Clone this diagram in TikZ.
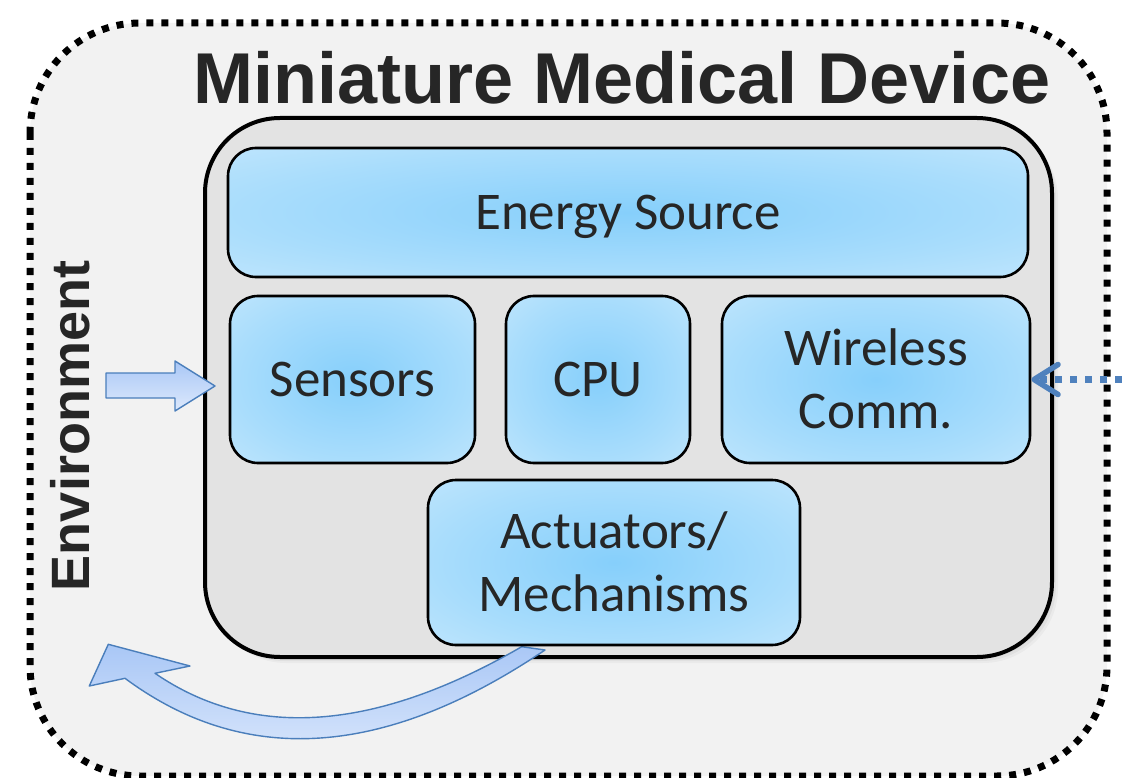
\documentclass[tikz,border=0pt]{standalone}
\usepackage{fontspec}
\setmainfont{Carlito}
\newfontfamily\headfont{Liberation Sans}
\usetikzlibrary{arrows.meta}
\definecolor{outerfill}{HTML}{F2F2F2}
\definecolor{innerfill}{HTML}{E3E3E3}
\definecolor{txt}{HTML}{262626}
\definecolor{glowc}{HTML}{86CFFB}
\definecolor{glowm}{HTML}{A9DDFC}
\definecolor{glowo}{HTML}{D9EFFE}
\definecolor{arrline}{HTML}{4A7EBB}
\definecolor{arrtop}{HTML}{A9C7F6}
\definecolor{arrbot}{HTML}{DDE9FC}
\definecolor{dotblue}{HTML}{4F81BD}
\pgfdeclareradialshading{boxglow}{\pgfpoint{0bp}{0bp}}{color(0bp)=(glowc); color(24bp)=(glowm); color(52bp)=(glowo); color(72bp)=(glowo)}
\tikzset{
  compbox/.style={draw=black, line width=2.6pt, rounded corners=28pt, shade, shading=boxglow,
    text=txt, font=\fontsize{53}{63}\selectfont, inner sep=0pt, align=center,
    text height=34pt, text depth=0pt},
  twoline/.style={text height=97pt, text depth=0pt},
  blockarrow/.style={draw=arrline, line width=1.4pt, line join=round, top color=arrtop, bottom color=arrbot},
  dotarrow/.style={draw=dotblue, line width=7pt, dash pattern=on 7pt off 8pt,
    -{Straight Barb[length=24pt, width=30pt, line width=5.5pt, line cap=round, line join=round]}},
  outerbox/.style={fill=outerfill, draw=black, line width=7pt, dash pattern=on 7pt off 8pt, rounded corners=110pt},
  innerbox/.style={fill=innerfill, draw=black, line width=4pt, rounded corners=75pt},
  headtext/.style={text=txt, font=\headfont\bfseries\fontsize{72}{80}\selectfont, inner sep=0pt, text height=51.5pt, text depth=0pt},
  envtext/.style={text=txt, font=\headfont\bfseries\fontsize{54}{60}\selectfont, inner sep=0pt, text height=39pt, text depth=0pt, rotate=90}
}
\begin{document}
\begin{tikzpicture}[x=1pt,y=-1pt]
\useasboundingbox (0,0) rectangle (1122,778);
\fill[white] (0,0) rectangle (1122,778);
% outer environment boundary
\path[outerbox] (30,23) rectangle (1107,776);
\node[headtext] (title) at (622,77.5) {Miniature Medical Device};
\node[envtext] (env) at (70,426) {Environment};
% device body (soft shadow + box)
\foreach \i/\o in {6/0.03,4/0.04,2/0.05}{
  \fill[black, opacity=\o, rounded corners=75pt] (205+\i,118+\i) rectangle (1052+\i,657+\i);
}
\path[innerbox] (205,118) rectangle (1052,657);
% feedback arrow from actuators to environment
\path[blockarrow] (89.3,686) -- (108.3,644.3) -- (190,666) -- (155,673.3)
  .. controls (252.7,740.3) and (375,731.7) .. (521.7,646.7) -- (545,650)
  .. controls (385,758) and (245,767.3) .. (125,678.3) -- cycle;
% components
\node[compbox, minimum width=800pt, minimum height=129pt] (energy) at (628,212.5) {Energy Source};
\node[compbox, minimum width=245pt, minimum height=167pt] (sensors) at (352.5,379.5) {Sensors};
\node[compbox, minimum width=184pt, minimum height=167pt] (cpu) at (598,379.5) {CPU};
\node[compbox, twoline, minimum width=308pt, minimum height=167pt] (wireless) at (876,379.5) {Wireless\\Comm.};
\node[compbox, twoline, minimum width=372pt, minimum height=165pt] (actuators) at (614,562.5) {Actuators/\\Mechanisms};
% input arrow from environment into sensors
\path[blockarrow] (106,373) -- (175,373) -- (175,361) -- (215,386) -- (175,411) -- (175,398) -- (106,398) -- cycle;
% wireless link
\coordinate (remote) at (1122,379.5);
\draw[dotarrow] (remote) -- (wireless.east);
\end{tikzpicture}
\end{document}
